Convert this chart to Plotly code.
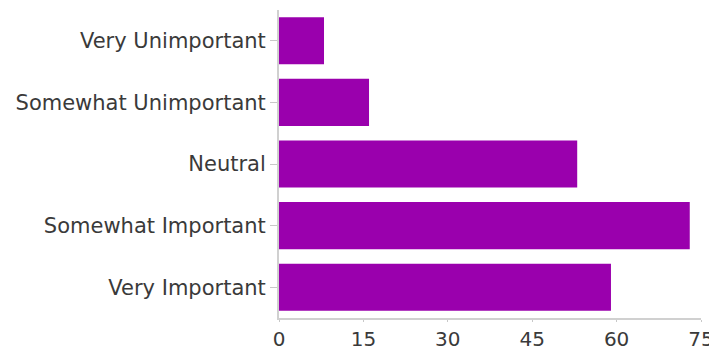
import plotly.graph_objects as go

categories = ["Very Important", "Somewhat Important", "Neutral",
              "Somewhat Unimportant", "Very Unimportant"]
counts = [59, 73, 53, 16, 8]
x_ticks = [0, 15, 30, 45, 60, 75]

fig = go.Figure(go.Bar(
    x=counts, y=categories, orientation="h",
    marker=dict(color="#9a00ad", line=dict(width=0)),
))

# page body adds an 8px offset; figure spans 709x346 of the 717x354 window
fig.update_layout(
    width=709, height=346,
    margin=dict(l=271, r=16, t=2, b=36, autoexpand=False),
    paper_bgcolor="white", plot_bgcolor="white",
    bargap=0.235,
    showlegend=False,
    font=dict(family="DejaVu Sans", size=21, color="#3a3a3a"),
)
fig.update_xaxes(
    range=[0, 75], tickvals=x_ticks, ticktext=[str(v) for v in x_ticks],
    automargin=False,
    showgrid=False, zeroline=False,
    showline=True, linecolor="#d0d0d0", linewidth=2,
    ticks="outside", ticklen=2, tickcolor="#c8c8c8",
    tickfont=dict(size=20, color="#3a3a3a"),
)
fig.update_yaxes(
    categoryorder="array", categoryarray=categories,
    automargin=False,
    showgrid=False, zeroline=False,
    showline=True, linecolor="#d0d0d0", linewidth=2,
    ticks="outside", ticklen=7, tickcolor="#c8c8c8",
    tickfont=dict(size=21, color="#3a3a3a"),
)

fig.write_html("out.html")
